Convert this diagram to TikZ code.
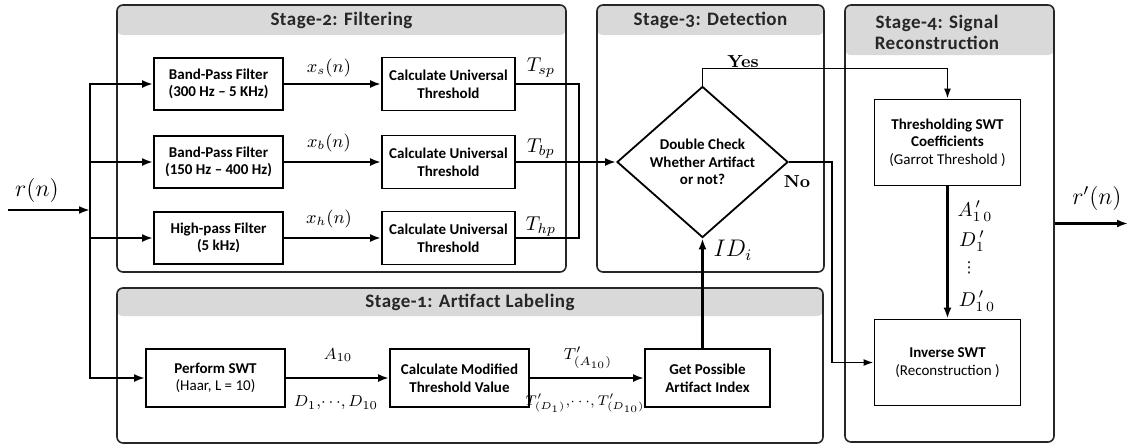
\documentclass[tikz,border=0pt]{standalone}
\usepackage{amsmath,amssymb}
\usepackage{fontspec}
\usepackage{xcolor}
\usepackage{tikz}
\usetikzlibrary{arrows.meta,positioning,shapes.geometric,fit}
\newfontfamily\boxfont{Carlito}
\newfontfamily\hdrfont[Numbers=OldStyle,LetterSpace=2.5]{Carlito}
\newfontfamily\symfont{DejaVu Sans}
\definecolor{hdrgray}{HTML}{D9D9D9}

\begin{document}
\begin{tikzpicture}[
      x=0.5pt, y=-0.5pt,
      box/.style={draw, line width=0.9pt, align=center, inner sep=1pt,
        font=\boxfont\bfseries\fontsize{7.5}{8.8}\selectfont},
      filt/.style={box, minimum width=64.5pt, minimum height=26pt},
      univ/.style={box, minimum width=66.5pt, minimum height=26.5pt},
      lab/.style={box, minimum height=29pt},
      rec/.style={box, minimum width=73pt, minimum height=43pt},
      dec/.style={box, diamond, minimum width=85.5pt, minimum height=67pt, inner sep=0pt},
      stage/.style={draw=black!85, line width=0.8pt, rounded corners=3pt, inner sep=0pt,
        path picture={\fill[hdrgray] (path picture bounding box.north west)
          rectangle ([yshift=-#1]path picture bounding box.north east);}},
      hdr/.style={align=center, text=black!85, inner sep=0pt,
        font=\hdrfont\bfseries\fontsize{9.5}{10.5}\selectfont},
      ml/.style={inner sep=0pt, font=\fontsize{#1}{#1}\selectfont},
      yn/.style={inner sep=0pt, font=\fontsize{8.7}{8.7}\selectfont\bfseries},
      ar/.style={-{Latex[length=5.5pt,width=4pt]}, line width=1.1pt},
      tar/.style={-{Latex[length=5pt,width=3.5pt]}, line width=0.85pt},
      ln/.style={line width=0.9pt}]
    \useasboundingbox (0,0) rectangle (1131,447);
    \node[stage=15pt, fit={(117,5) (566,272)}]   (p2) {};
    \node[stage=15pt, fit={(597,5) (824,272)}]   (p3) {};
    \node[stage=25pt, fit={(845,5) (1054,442)}]  (p4) {};
    \node[stage=14pt, fit={(117,288) (823,443)}] (p1) {};
    \node[hdr] (h2) at (341.5,20) {Stage-2: Filtering};
    \node[hdr] (h3) at (710.5,20) {Stage-3: Detection};
    \node[hdr] (h4) at (937,32.5) {Stage-4: Signal\\Reconstruction};
    \node[hdr] (h1) at (470,302)  {Stage-1: Artifact Labeling};

    \node[filt] (bp1) at (218.5,84)  {Band-Pass Filter\\(300 Hz – 5 KHz)};
    \node[filt] (bp2) at (218.5,162) {Band-Pass Filter\\(150 Hz – 400 Hz)};
    \node[filt] (hp)  at (218.5,238) {High-pass Filter\\(5 kHz)};
    \node[univ] (u1)  at (448.5,84)  {Calculate Universal\\Threshold};
    \node[univ] (u2)  at (448.5,162) {Calculate Universal\\Threshold};
    \node[univ] (u3)  at (448.5,238) {Calculate Universal\\Threshold};
    \node[dec]  (dc)  at (702.5,162) {Double Check\\Whether Artifact\\or not?};
    \node[lab, minimum width=69.5pt] (swt) at (215.5,378) {Perform SWT\\{\mdseries(Haar, L = 10)}};
    \node[lab, minimum width=69.5pt] (cmt) at (459.5,378) {Calculate Modified\\Threshold Value};
    \node[lab, minimum width=62.5pt] (gpa) at (707.5,378) {Get Possible\\Artifact Index};
    \node[rec] (thr) at (947.5,142.5) {Thresholding SWT\\Coefficients\\{\mdseries(Garrot Threshold )}};
    \node[rec] (inv) at (947.5,362.5) {Inverse SWT\\{\mdseries(Reconstruction )}};

    \coordinate (in)     at (8,210);
    \coordinate (split)  at (90,210);
    \coordinate (merge)  at (579,162);
    \coordinate (nobend) at (832,162);
    \coordinate (out)    at (1128,223.5);

    \node[ml=11.5] (lr)   at (37,190)   {$r(n)$};
    \node[ml=11.5] (lro)  at (1097,198) {$r'(n)$};
    \node[ml=9]    (lxs)  at (329,68)   {$x_s(n)$};
    \node[ml=9]    (lxb)  at (329,143)  {$x_b(n)$};
    \node[ml=9]    (lxh)  at (329,219)  {$x_h(n)$};
    \node[ml=10]   (ltsp) at (541,68)   {$T_{sp}$};
    \node[ml=10]   (ltbp) at (541,149)  {$T_{bp}$};
    \node[ml=10]   (lthp) at (541,227)  {$T_{hp}$};
    \node[yn]      (lyes) at (743,62)   {Yes};
    \node[yn]      (lno)  at (797,182)  {No};
    \node[ml=12]   (lid)  at (733,250)  {$ID_i$};
    \node[ml=8.5]  (la)   at (338,355)  {$A_{10}$};
    \node[ml=8]    (ld)   at (336,403)  {$D_1,\!\cdots\!,D_{10}$};
    \node[ml=8]    (lta)  at (588,358)  {$T'_{(A_{10})}$};
    \node[ml=7.2]  (ltd)  at (585,403)  {$T'_{(D_1)},\!\cdots\!,T'_{(D_{10})}$};
    \node[ml=10]   (lap)  at (975,211)  {$A^{\,\prime}_{1\,0}$};
    \node[ml=10]   (ldp)  at (972,241)  {$D^{\,\prime}_{1}$};
    \node[inner sep=0pt, font=\symfont\fontsize{7.5}{7.5}\selectfont] (ldot) at (969,268) {⋮};
    \node[ml=10]   (ldq)  at (977,301)  {$D^{\,\prime}_{1\,0}$};

    \draw[ar] (in) -- (split);
    \draw[ar] (split) |- (bp1);
    \draw[ar] (split) |- (bp2);
    \draw[ar] (split) |- (hp);
    \draw[ar] (split) |- (swt);
    \draw[ar] (bp1) -- (u1);
    \draw[ar] (bp2) -- (u2);
    \draw[ar] (hp) -- (u3);
    \draw[ln] (u1.east) -| (merge) |- (u3.east);
    \draw[ar] (u2) -- (dc);
    \draw[tar] (dc.north) -- ++(0,-17) -| (thr.north);
    \draw[tar] (dc.east) -- (nobend) |- (inv.west);
    \draw[ar] (swt) -- (cmt);
    \draw[ar] (cmt) -- (gpa);
    \draw[ar] (gpa.north -| dc.south) -- (dc.south);
    \draw[ar] (thr) -- (inv);
    \draw[ar] (p4.east) -- (out);
  \end{tikzpicture}
\end{document}
